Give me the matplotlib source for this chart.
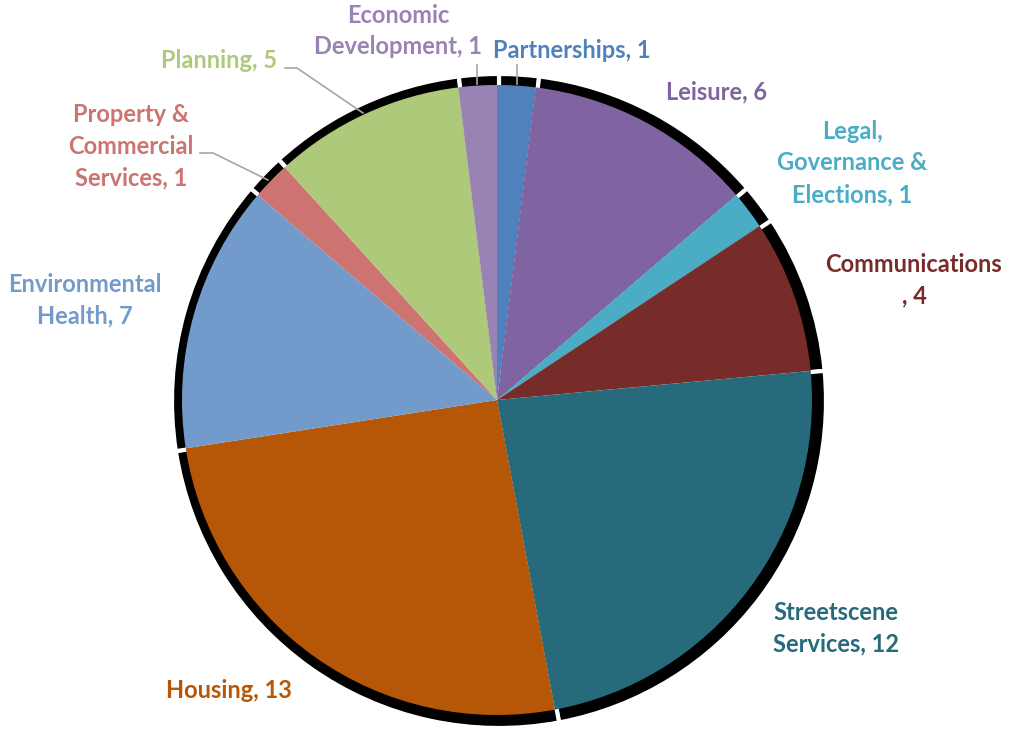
import numpy as np
import matplotlib.pyplot as plt

# Daten
categories = ['Partnerships', 'Leisure', 'Legal,\nGovernance &\nElections', 'Communications\n',
              'Streetscene\nServices', 'Housing', 'Environmental\nHealth',
              'Property &\nCommercial\nServices', 'Planning', 'Economic\nDevelopment']
values = [1, 6, 1, 4, 12, 13, 7, 1, 5, 1]
colors = ['#4F81BD', '#8064A2', '#4BACC6', '#772C2A', '#276A7C',
          '#B65708', '#729ACA', '#CD7371', '#AFC97A', '#9983B5']

W, H = 1010, 731
fig = plt.figure(figsize=(W / 100, H / 100), dpi=100)
ax = fig.add_axes([0, 0, 1, 1])

cx, cy, r = 497, H - 400, 315

# Schatten
ax.pie(values, radius=r + 12, center=(cx + 2, cy - 1), startangle=90, counterclock=False,
       colors=['black'] * len(values), wedgeprops=dict(edgecolor='white', linewidth=3),
       frame=True)
# Kue
wedges, _ = ax.pie(values, radius=r, center=(cx, cy), startangle=90, counterclock=False,
                   colors=colors, wedgeprops=dict(edgecolor='none'), frame=True)
ax.set_xlim(0, W)
ax.set_ylim(0, H)
ax.axis('off')

# Posisi label (pixel)
label_pos = [(572, 50), (717, 92), (852, 163), (914, 280), (836, 628),
             (229, 691), (85, 300), (131, 146), (219, 60), (398, 31)]
for name, v, c, (x, y) in zip(categories, values, colors, label_pos):
    txt = name + ', ' + str(v)
    ax.text(x, H - y, txt, ha='center', va='center', color=c, fontsize=17,
            fontweight='bold', family='Lato', linespacing=1.45)

# Garis penunjuk
lc = '#A6A6A6'
ax.plot([477, 477], [H - 65, H - 84], color=lc, lw=1.2)
ax.plot([517, 517], [H - 65, H - 84], color=lc, lw=1.2)
ax.plot([285, 297, 363], [H - 68, H - 68, H - 113], color=lc, lw=1.2)
ax.plot([200, 213, 268], [H - 153, H - 153, H - 180], color=lc, lw=1.2)

fig.savefig('out.png', dpi=100)
